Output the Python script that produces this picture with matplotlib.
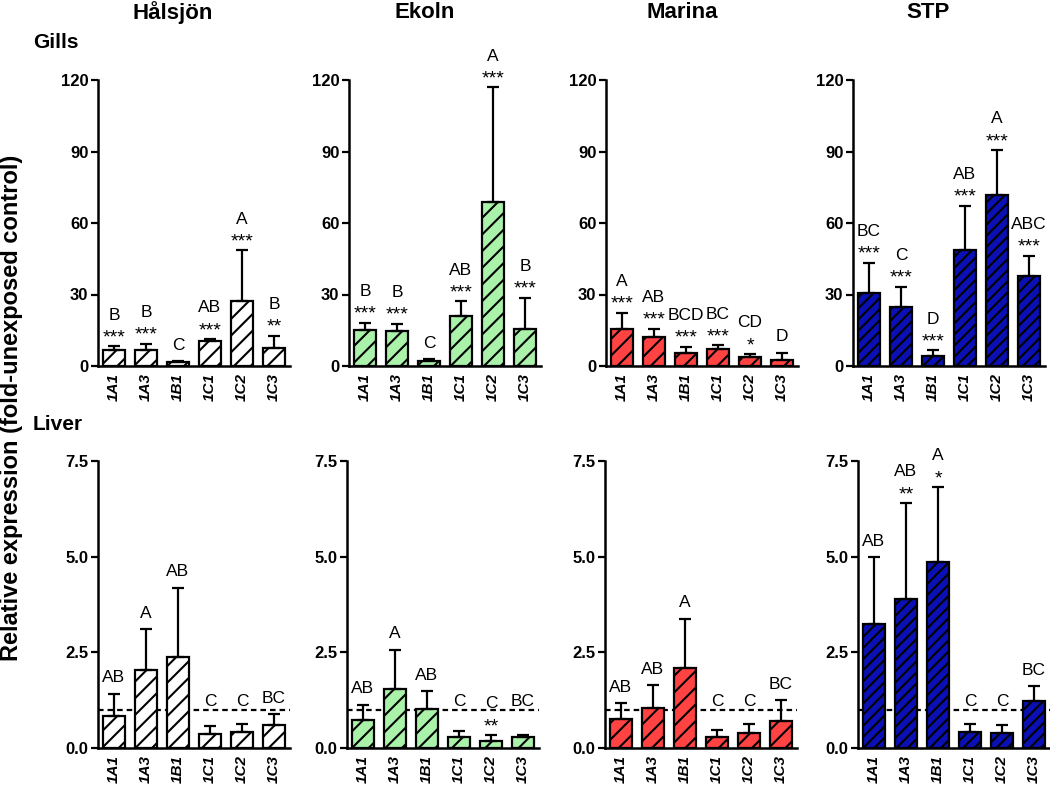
import numpy as np
import matplotlib
matplotlib.use("Agg")
import matplotlib.pyplot as plt

plt.rcParams['font.family'] = ['Liberation Sans', 'DejaVu Sans']
plt.rcParams['hatch.linewidth'] = 1.5

genes = ["1A1", "1A3", "1B1", "1C1", "1C2", "1C3"]
sites = ["Hålsjön", "Ekoln", "Marina", "STP"]
colors = ["#ffffff", "#aaf2aa", "#ff4343", "#0a10b4"]
hatches = ["//", "//", "//", "///"]

# gills: mean and mean+SD (top of error bar)
gill_mean = {
    "Hålsjön": [6.9, 6.9, 1.7, 10.4, 27.3, 7.6],
    "Ekoln":   [15.0, 14.7, 2.0, 21.0, 68.9, 15.5],
    "Marina":  [15.4, 12.2, 5.6, 7.0, 3.6, 2.7],
    "STP":     [30.8, 24.6, 4.3, 48.7, 71.8, 37.7],
}
gill_top = {
    "Hålsjön": [8.3, 9.4, 2.1, 11.3, 48.6, 12.7],
    "Ekoln":   [18.2, 17.8, 2.8, 27.2, 117.0, 28.6],
    "Marina":  [22.4, 15.7, 8.0, 8.7, 5.0, 5.6],
    "STP":     [43.4, 33.2, 6.6, 67.2, 90.6, 46.2],
}
gill_letters = {
    "Hålsjön": ["B", "B", "C", "AB", "A", "B"],
    "Ekoln":   ["B", "B", "C", "AB", "A", "B"],
    "Marina":  ["A", "AB", "BCD", "BC", "CD", "D"],
    "STP":     ["BC", "C", "D", "AB", "A", "ABC"],
}
gill_stars = {
    "Hålsjön": ["***", "***", "", "***", "***", "**"],
    "Ekoln":   ["***", "***", "", "***", "***", "***"],
    "Marina":  ["***", "***", "***", "***", "*", ""],
    "STP":     ["***", "***", "***", "***", "***", "***"],
}

# liver
liver_mean = {
    "Hålsjön": [0.84, 2.03, 2.38, 0.36, 0.41, 0.59],
    "Ekoln":   [0.74, 1.55, 1.01, 0.29, 0.18, 0.29],
    "Marina":  [0.77, 1.05, 2.08, 0.29, 0.39, 0.70],
    "STP":     [3.23, 3.89, 4.87, 0.41, 0.40, 1.24],
}
liver_top = {
    "Hålsjön": [1.42, 3.10, 4.19, 0.57, 0.64, 0.88],
    "Ekoln":   [1.13, 2.57, 1.48, 0.44, 0.34, 0.35],
    "Marina":  [1.18, 1.64, 3.38, 0.46, 0.63, 1.25],
    "STP":     [4.98, 6.40, 6.82, 0.62, 0.61, 1.61],
}
liver_letters = {
    "Hålsjön": ["AB", "A", "AB", "C", "C", "BC"],
    "Ekoln":   ["AB", "A", "AB", "C", "C", "BC"],
    "Marina":  ["AB", "AB", "A", "C", "C", "BC"],
    "STP":     ["AB", "AB", "A", "C", "C", "BC"],
}
liver_stars = {
    "Hålsjön": ["", "", "", "", "", ""],
    "Ekoln":   ["", "", "", "", "**", ""],
    "Marina":  ["", "", "", "", "", ""],
    "STP":     ["", "**", "*", "", "", ""],
}

W, H = 1050, 790
fig = plt.figure(figsize=(W / 100, H / 100), dpi=100)

top_left = [98, 349, 606, 853]
bot_left = [98, 347, 605, 858]
ax_w = 192
title_x = [173, 425, 682, 928]


def panel(ax, means, tops, letters, stars, color, hatch, ymax, yticks, fmt, floor, dashed):
    x = np.arange(len(genes))
    means = np.array(means)
    tops = np.array(tops)
    if dashed:
        ax.axhline(1.0, color="black", lw=1.6, ls=(0, (2.5, 1.8)), zorder=1)
    ax.bar(x, means, width=0.68, color=color, edgecolor="black", lw=1.6,
           hatch=hatch, zorder=2)
    ax.errorbar(x, means, yerr=[np.zeros_like(means), tops - means], fmt="none",
                ecolor="black", elinewidth=1.6, capsize=4, capthick=1.6, zorder=3)
    for i in range(len(genes)):
        if stars[i]:
            base = tops[i]
            ax.annotate(stars[i], (x[i], base), xytext=(0, 0), textcoords="offset points",
                        ha="center", va="bottom", fontsize=14)
            ax.annotate(letters[i], (x[i], base), xytext=(0, 17), textcoords="offset points",
                        ha="center", va="bottom", fontsize=12.5)
        else:
            base = max(tops[i], floor)
            ax.annotate(letters[i], (x[i], base), xytext=(0, 6), textcoords="offset points",
                        ha="center", va="bottom", fontsize=12.5)
    ax.set_xlim(-0.5, 5.5)
    ax.set_ylim(0, ymax)
    ax.set_yticks(yticks)
    ax.set_yticklabels([fmt.format(v) for v in yticks], fontweight="bold", fontsize=12)
    ax.set_xticks(x)
    ax.set_xticklabels(genes, rotation=90, fontstyle="italic", fontweight="bold", fontsize=11)
    ax.tick_params(axis="x", length=0, pad=5)
    ax.tick_params(axis="y", length=5, width=1.6, pad=2)
    for s in ["top", "right"]:
        ax.spines[s].set_visible(False)
    for s in ["left", "bottom"]:
        ax.spines[s].set_linewidth(1.8)
    ax.patch.set_alpha(0)


for k, site in enumerate(sites):
    ax = fig.add_axes([top_left[k] / W, 1 - 366 / H, ax_w / W, 286 / H])
    panel(ax, gill_mean[site], gill_top[site], gill_letters[site], gill_stars[site],
          colors[k], hatches[k], 120, [0, 30, 60, 90, 120], "{:.0f}", 0, False)
    ax2 = fig.add_axes([bot_left[k] / W, 1 - 748 / H, ax_w / W, 287 / H])
    panel(ax2, liver_mean[site], liver_top[site], liver_letters[site], liver_stars[site],
          colors[k], hatches[k], 7.5, [0.0, 2.5, 5.0, 7.5], "{:.1f}", 0.8, True)
    fig.text(title_x[k] / W, 1 - 13 / H, site, ha="center", va="center",
             fontsize=16, fontweight="bold")

fig.text(33 / W, 1 - 43 / H, "Gills", ha="left", va="center", fontsize=15, fontweight="bold")
fig.text(33 / W, 1 - 424 / H, "Liver", ha="left", va="center", fontsize=15, fontweight="bold")
fig.text(12 / W, 1 - 408 / H, "Relative expression (fold-unexposed control)", rotation=90,
         ha="center", va="center", fontsize=17, fontweight="bold")

fig.savefig("out.png", dpi=100)
